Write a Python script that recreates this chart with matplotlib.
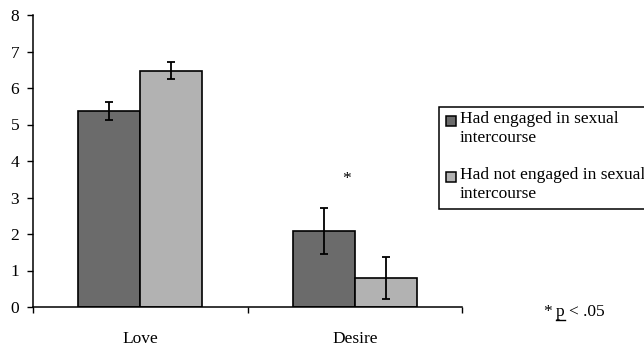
import numpy as np
import matplotlib
matplotlib.use('Agg')
import matplotlib.pyplot as plt
from matplotlib.patches import Rectangle

# Data
categories = ['Love', 'Desire']
series_labels = ['Had engaged in sexual\nintercourse',
                 'Had not engaged in sexual\nintercourse']
engaged_means = [5.36, 2.08]
engaged_err = [0.25, 0.64]
not_engaged_means = [6.47, 0.80]
not_engaged_err = [0.23, 0.57]
bar_colors = ['#6b6b6b', '#b2b2b2']
y_ticks = [0, 1, 2, 3, 4, 5, 6, 7, 8]

plt.rcParams['font.family'] = ['Liberation Serif', 'DejaVu Serif']
FS = 12.5

W, H = 644, 347
fig = plt.figure(figsize=(W / 100, H / 100), dpi=100)
ax = fig.add_axes([33 / W, 1 - 307 / H, (462 - 33) / W, (307 - 15) / H])

x = np.arange(len(categories))
width = 0.29
err_kw = dict(elinewidth=1.3, capthick=1.3, capsize=3.2, ecolor='black')

ax.bar(x - width / 2, engaged_means, width, yerr=engaged_err,
       color=bar_colors[0], edgecolor='black', linewidth=1.2, error_kw=err_kw, zorder=2)
ax.bar(x + width / 2, not_engaged_means, width, yerr=not_engaged_err,
       color=bar_colors[1], edgecolor='black', linewidth=1.2, error_kw=err_kw, zorder=2)

# significance marker above Desire
ax.text(0.96, 3.5, '*', ha='center', va='center', fontsize=FS)

ax.set_xlim(-0.5, 1.5)
ax.set_ylim(0, 8)
ax.set_yticks(y_ticks)
ax.tick_params(axis='y', direction='out', length=4, width=1, pad=6, labelsize=FS)

# boundary ticks below the axis, category labels centered
ax.set_xticks([-0.5, 0.5, 1.5])
ax.set_xticklabels(['', '', ''])
ax.tick_params(axis='x', which='major', direction='out', length=4, width=1)
ax.set_xticks(x, minor=True)
ax.set_xticklabels(categories, minor=True)
ax.tick_params(axis='x', which='minor', length=0, pad=17, labelsize=FS)

for side in ['top', 'right']:
    ax.spines[side].set_visible(False)
for side in ['left', 'bottom']:
    ax.spines[side].set_linewidth(1.1)

# legend box drawn by hand (clipped on the right like the original)
def fx(px):
    return px / W

def fy(py):
    return 1 - py / H

fig.add_artist(Rectangle((fx(439), fy(209)), fx(660) - fx(439), fy(107) - fy(209),
                         transform=fig.transFigure, facecolor='white',
                         edgecolor='black', linewidth=1.1, clip_on=False))
for label, color, mid in zip(series_labels, bar_colors, [121, 177]):
    fig.add_artist(Rectangle((fx(446), fy(mid + 5)), fx(10), fy(0) - fy(10),
                             transform=fig.transFigure, facecolor=color,
                             edgecolor='black', linewidth=1.1))
    fig.text(fx(460), fy(mid - 10), label, ha='left', va='top', fontsize=FS,
             linespacing=1.25)

# footnote: * p < .05 with underlined p
fig.text(fx(543), fy(312), '*', ha='left', va='center', fontsize=FS)
fig.text(fx(556), fy(312), 'p', ha='left', va='center', fontsize=FS)
fig.add_artist(plt.Line2D([fx(555.5), fx(564.5)], [fy(319.5), fy(319.5)],
                          transform=fig.transFigure, color='black', linewidth=1))
fig.text(fx(569), fy(312), '< .05', ha='left', va='center', fontsize=FS)

fig.savefig('out.png', dpi=100)
